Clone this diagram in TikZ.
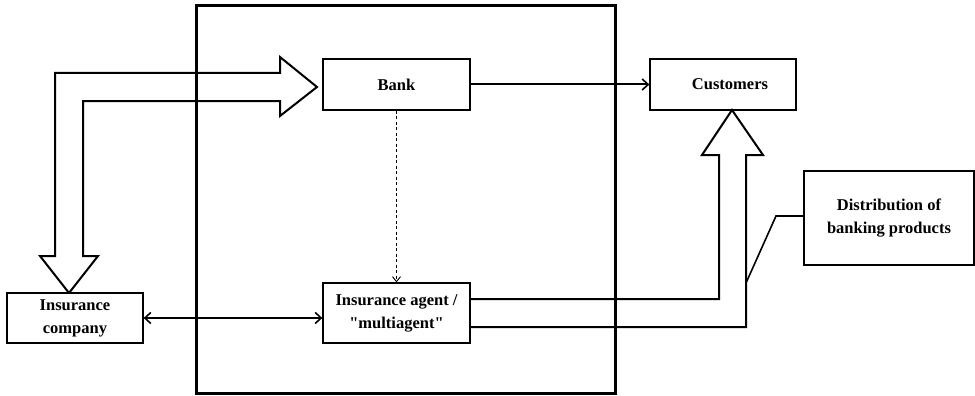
\documentclass[tikz,border=0pt]{standalone}
\usepackage{fontspec}
\setmainfont{Liberation Serif}
\usetikzlibrary{arrows.meta}
\tikzset{
  box/.style={draw, line width=1.3pt, fill=white, align=center, inner sep=0pt,
              font=\bfseries\fontsize{16.5}{23}\selectfont},
  barb/.style={Straight Barb[length=6pt,width=11pt,line width=1.6pt]},
  link/.style={line width=2pt, -{Straight Barb[length=6pt,width=11pt,line width=1.6pt]}},
  blockarrow/.style={line width=2pt, line join=miter},
  frame/.style={line width=3pt}
}
\begin{document}
\begin{tikzpicture}[x=1pt,y=-1pt]
\useasboundingbox (0,0) rectangle (975,396);

% hollow L-shaped arrow: insurance company <-> bank
\draw[blockarrow] (317,87) -- (280,116) -- (280,101) -- (83,101) -- (83,256)
  -- (98,256) -- (69,293) -- (40,256) -- (55,256) -- (55,73) -- (280,73)
  -- (280,57) -- cycle;

% bank group frame
\draw[frame] (196,6) rectangle (615,393);

% boxes
\node[box, minimum width=147pt, minimum height=51pt] (bank) at (396.5,84.5) {Bank};
\node[box, minimum width=146pt, minimum height=51pt] (cust) at (723,84.5) {\hspace*{14pt}Customers};
\node[box, minimum width=170pt, minimum height=94pt] (dist) at (889,218) {Distribution of\\banking products};
\node[box, minimum width=136pt, minimum height=50pt] (ins) at (75,318) {Insurance\\company};
\node[box, minimum width=147pt, minimum height=60pt] (agent) at (396.5,313) {Insurance agent /\\\textquotedbl multiagent\textquotedbl};

% connectors
\draw[link] (bank.east) -- (cust.west);
\draw[line width=0.9pt, dash pattern=on 3pt off 2.5pt,
      -{Straight Barb[length=5pt,width=8pt,line width=0.9pt]}] (bank.south) -- (agent.north);
\draw[line width=2pt, {Straight Barb[length=6pt,width=11pt,line width=1.6pt]}-{Straight Barb[length=6pt,width=11pt,line width=1.6pt]}]
  (ins.east |- 0,318) -- (agent.west |- 0,318);

% hollow U-shaped arrow: agent -> customers
\draw[blockarrow] (agent.east |- 0,299) -- (719,299) -- (719,155) -- (702,155)
  -- (732,110) -- (763,155) -- (746,155) -- (746,327) -- (agent.east |- 0,327);

% callout from the distribution box
\coordinate (callfoot) at (746,283);
\draw[line width=1.6pt] (dist.west |- 0,216) -- (776,216) -- (callfoot);
\end{tikzpicture}
\end{document}
